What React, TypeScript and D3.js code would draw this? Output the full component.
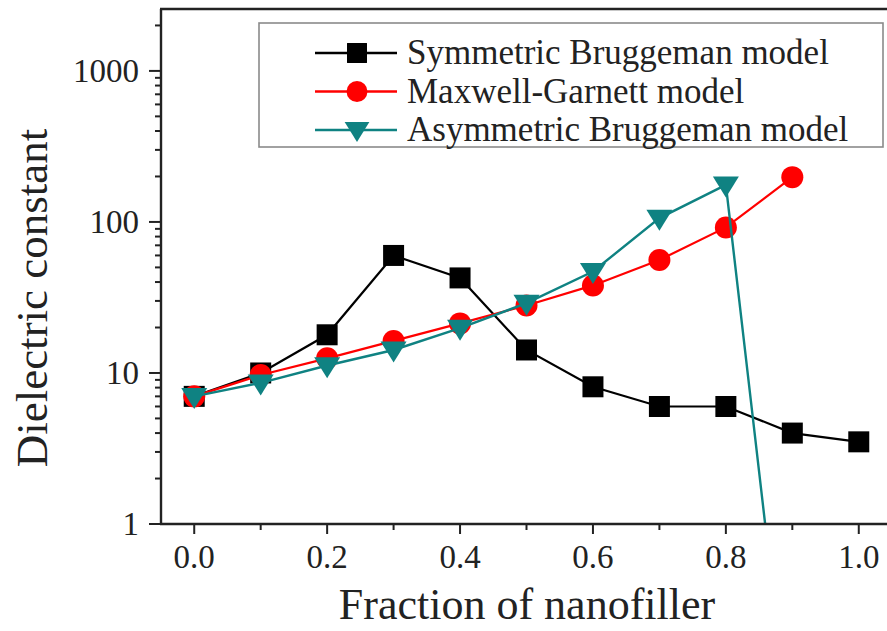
import React from "react";
import * as d3 from "d3";

const symX = [0, 0.1, 0.2, 0.3, 0.4, 0.5, 0.6, 0.7, 0.8, 0.9, 1.0];
const symBruggeman = [7, 10, 17.9, 60, 42.6, 14.2, 8.1, 6, 6, 4, 3.5];
const mgX = [0, 0.1, 0.2, 0.3, 0.4, 0.5, 0.6, 0.7, 0.8, 0.9];
const maxwellGarnett = [7, 9.7, 12.5, 16.3, 21.3, 28, 38, 56, 92, 198];
const asymX = [0, 0.1, 0.2, 0.3, 0.4, 0.5, 0.6, 0.7, 0.8, 0.9];
const asymBruggeman = [7, 8.6, 11.2, 14.2, 19.8, 29, 47, 106, 176, 0.028];
const xTicks = [0, 0.2, 0.4, 0.6, 0.8, 1.0];
const xMinor = [0.1, 0.3, 0.5, 0.7, 0.9];
const yTicks = [1, 10, 100, 1000];
const legendLabels = ["Symmetric Bruggeman model", "Maxwell-Garnett model", "Asymmetric Bruggeman model"];

const W = 887, H = 631;
const L = 161, R = 892, T = 9, B = 524;
const FONT = "'Liberation Serif', 'Times New Roman', serif";
const BLACK = "#000000", RED = "#ff0000", TEAL = "#0f8282";

export default function App() {
  const x = d3.scaleLinear().domain([-0.05, 1.05]).range([L, R]);
  const y = d3.scaleLog().domain([1, 2570]).range([B, T]);
  const line = d3.line<[number, number]>().x(d => x(d[0])).y(d => y(d[1]));
  const zip = (a: number[], b: number[]) => a.map((v, i) => [v, b[i]] as [number, number]);
  const s1 = zip(symX, symBruggeman);
  const s2 = zip(mgX, maxwellGarnett);
  const s3 = zip(asymX, asymBruggeman);

  const minorY: number[] = [];
  for (let d = 1; d <= 1000; d *= 10) for (let k = 2; k <= 9; k++) if (d * k < 2570) minorY.push(d * k);

  const square = (s: number) => `M${-s / 2},${-s / 2}h${s}v${s}h${-s}Z`;
  const tri = (w: number, h: number) => `M${-w / 2},${-h * 0.4}L${w / 2},${-h * 0.4}L0,${h * 0.6}Z`;

  const marker = (kind: number, cx: number, cy: number, key: string | number, scale = 1) => {
    if (kind === 0) return <path key={key} d={square(21 * scale)} transform={`translate(${cx},${cy})`} fill={BLACK} />;
    if (kind === 1) return <circle key={key} cx={cx} cy={cy} r={11 * scale} fill={RED} />;
    return <path key={key} d={tri(26 * scale, 21 * scale)} transform={`translate(${cx},${cy})`} fill={TEAL} />;
  };

  return (
    <svg width={W} height={H} style={{ position: "absolute", left: 0, top: 0, background: "#fff" }} fontFamily={FONT}>
      <defs>
        <clipPath id="plotclip"><rect x={L} y={T} width={R - L} height={B - T} /></clipPath>
      </defs>
      <rect x={0} y={0} width={W} height={H} fill="#fff" />
      <g clipPath="url(#plotclip)">
        <path d={line(s1) || ""} fill="none" stroke={BLACK} strokeWidth={2.2} />
        {s1.map((d, i) => marker(0, x(d[0]), y(d[1]), "a" + i))}
        <path d={line(s2) || ""} fill="none" stroke={RED} strokeWidth={2.2} />
        {s2.map((d, i) => marker(1, x(d[0]), y(d[1]), "b" + i))}
        <path d={line(s3) || ""} fill="none" stroke={TEAL} strokeWidth={2.4} />
        {s3.map((d, i) => marker(2, x(d[0]), y(d[1]), "c" + i))}
      </g>
      <line x1={L} y1={T} x2={L} y2={B + 1} stroke="#222" strokeWidth={2.4} />
      <line x1={L - 1} y1={B} x2={W} y2={B} stroke="#222" strokeWidth={2.4} />
      <line x1={L - 1} y1={T} x2={W} y2={T} stroke="#222" strokeWidth={2.4} />
      {yTicks.map(t => (
        <g key={"yt" + t}>
          <line x1={L - 12} x2={L} y1={y(t)} y2={y(t)} stroke="#222" strokeWidth={2} />
          <text x={L - 22} y={y(t) + 11} textAnchor="end" fontSize={33} fill="#222">{t}</text>
        </g>
      ))}
      {minorY.map(t => (
        <line key={"ym" + t} x1={L - 6} x2={L} y1={y(t)} y2={y(t)} stroke="#222" strokeWidth={2} />
      ))}
      {xTicks.map(t => (
        <g key={"xt" + t}>
          <line x1={x(t)} x2={x(t)} y1={B} y2={B + 10} stroke="#222" strokeWidth={2} />
          <text x={x(t)} y={B + 44} textAnchor="middle" fontSize={33} fill="#222">{t.toFixed(1)}</text>
        </g>
      ))}
      {xMinor.map(t => (
        <line key={"xm" + t} x1={x(t)} x2={x(t)} y1={B} y2={B + 6} stroke="#222" strokeWidth={2} />
      ))}
      <text x={527} y={619} textAnchor="middle" fontSize={44} fill="#222">Fraction of nanofiller</text>
      <text transform="translate(47,298) rotate(-90)" textAnchor="middle" fontSize={45} fill="#222">Dielectric constant</text>
      <rect x={259} y={23} width={624} height={124} fill="#fff" stroke="#8a8a8a" strokeWidth={1.6} />
      {legendLabels.map((lab, i) => {
        const ly = 53 + i * 38.5;
        const col = [BLACK, RED, TEAL][i];
        return (
          <g key={"lg" + i}>
            <line x1={315} x2={397} y1={ly} y2={ly} stroke={col} strokeWidth={2.4} />
            {marker(i, 357, ly, "lm" + i, 0.95)}
            <text x={407} y={ly + 11} fontSize={35} fill="#222">{lab}</text>
          </g>
        );
      })}
    </svg>
  );
}
